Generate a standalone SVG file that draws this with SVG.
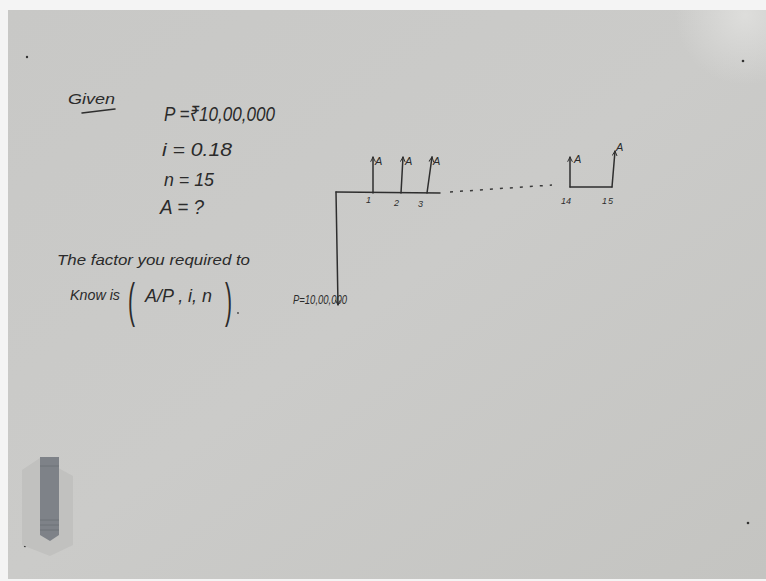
<svg xmlns="http://www.w3.org/2000/svg" width="766" height="581" viewBox="0 0 766 581">
<defs>
<linearGradient id="board" x1="0" y1="0" x2="1" y2="1">
<stop offset="0" stop-color="#c8c8c6"/>
<stop offset="0.5" stop-color="#cbcbc9"/>
<stop offset="1" stop-color="#c4c4c1"/>
</linearGradient>
<radialGradient id="glare" cx="745" cy="15" r="70" gradientUnits="userSpaceOnUse">
<stop offset="0" stop-color="#e2e2e0" stop-opacity="0.8"/>
<stop offset="1" stop-color="#e2e2e0" stop-opacity="0"/>
</radialGradient>
<marker id="ah" viewBox="0 0 10 10" refX="9" refY="5" markerWidth="6" markerHeight="6" orient="auto" markerUnits="userSpaceOnUse">
<path d="M1,1 L9,5 L1,9" fill="none" stroke="#2a2a2a" stroke-width="1.6"/>
</marker>
<style>
.t{font-family:"Liberation Sans","Noto Sans","DejaVu Sans",sans-serif;fill:#2b2b2b;font-style:italic}
.p{font-family:"Liberation Sans","Noto Sans",sans-serif;fill:#2b2b2b;font-size:48px;font-weight:300}
.ln{stroke:#2e2e2e;stroke-width:1.5;fill:none;stroke-linecap:round}
.s{font-family:"Liberation Sans","Noto Sans",sans-serif;fill:#2b2b2b;font-size:9px;font-style:italic}
</style>
</defs>
<rect width="766" height="581" fill="#f4f4f4"/>
<rect x="8" y="10" width="758" height="569" fill="url(#board)"/>
<rect x="8" y="10" width="758" height="569" fill="url(#glare)"/>
<g id="marks" fill="#333">
<circle cx="27" cy="57" r="1.2"/>
<circle cx="743" cy="61" r="1.3"/>
<circle cx="748" cy="523" r="1.3"/>
<circle cx="25" cy="546" r="1.2"/>
</g>
<g id="eraser">
<path d="M22,470 L40,458 L73,476 L73,545 L50,556 L22,545 Z" fill="#c1c1bf"/>
<path d="M40,457 L59,457 L59,535 L50,541 L40,535 Z" fill="#7e8288"/>
<g stroke="#6a6e73" stroke-width="0.8">
<line x1="40" y1="466" x2="59" y2="466"/>
<line x1="40" y1="520" x2="59" y2="520"/>
<line x1="40" y1="525" x2="59" y2="525"/>
<line x1="40" y1="530" x2="59" y2="530"/>
</g>
</g>
<g id="given">
<text class="t" x="68" y="104" font-size="15" textLength="47" lengthAdjust="spacingAndGlyphs">Given</text>
<path class="ln" d="M82,113 L115,109"/>
</g>
<g id="values">
<text class="t" x="164" y="121" font-size="21" textLength="111" lengthAdjust="spacingAndGlyphs">P =₹10,00,000</text>
<text class="t" x="162" y="156" font-size="18" textLength="70" lengthAdjust="spacingAndGlyphs">i =  0.18</text>
<text class="t" x="164" y="186" font-size="18" textLength="50" lengthAdjust="spacingAndGlyphs">n = 15</text>
<text class="t" x="160" y="214" font-size="20" textLength="44" lengthAdjust="spacingAndGlyphs">A = ?</text>
</g>
<g id="factor">
<text class="t" x="57" y="265" font-size="15" textLength="193" lengthAdjust="spacingAndGlyphs">The factor you required to</text>
<text class="t" x="70" y="300" font-size="15" textLength="50" lengthAdjust="spacingAndGlyphs">Know is</text>
<text class="p" x="128" y="317" textLength="7" lengthAdjust="spacingAndGlyphs">(</text>
<text class="t" x="145" y="302" font-size="18" textLength="67" lengthAdjust="spacingAndGlyphs">A/P , i, n</text>
<text class="p" x="225" y="317" textLength="7" lengthAdjust="spacingAndGlyphs">)</text>
<circle cx="238" cy="313" r="0.9" fill="#444"/>
</g>
<g id="connectors">
<path class="ln" d="M336,192 L440,193"/>
<path class="ln" d="M336,192 L338,305" marker-end="url(#ah)"/>
<path class="ln" d="M373,193 L373,157" marker-end="url(#ah)"/>
<path class="ln" d="M401,193 L403,157" marker-end="url(#ah)"/>
<path class="ln" d="M427,193 L432,157" marker-end="url(#ah)"/>
<path d="M450,192 L552,185" stroke="#3a3a3a" stroke-width="1.5" stroke-dasharray="3 7" fill="none"/>
<path class="ln" d="M570,187 L570,157" marker-end="url(#ah)"/>
<path class="ln" d="M570,187 L612,187"/>
<path class="ln" d="M612,187 L615,151" marker-end="url(#ah)"/>
</g>
<g id="labels">
<text class="t" x="375" y="165" font-size="11">A</text>
<text class="t" x="405" y="165" font-size="11">A</text>
<text class="t" x="433" y="165" font-size="11">A</text>
<text class="t" x="574" y="163" font-size="11">A</text>
<text class="t" x="616" y="151" font-size="11">A</text>
<text class="s" x="366" y="203">1</text>
<text class="s" x="394" y="206">2</text>
<text class="s" x="418" y="207">3</text>
<text class="s" x="561" y="204" textLength="10">14</text>
<text class="s" x="602" y="204" textLength="11">15</text>
<text class="t" x="293" y="304" font-size="12" textLength="54" lengthAdjust="spacingAndGlyphs">P=10,00,000</text>
</g>
</svg>
